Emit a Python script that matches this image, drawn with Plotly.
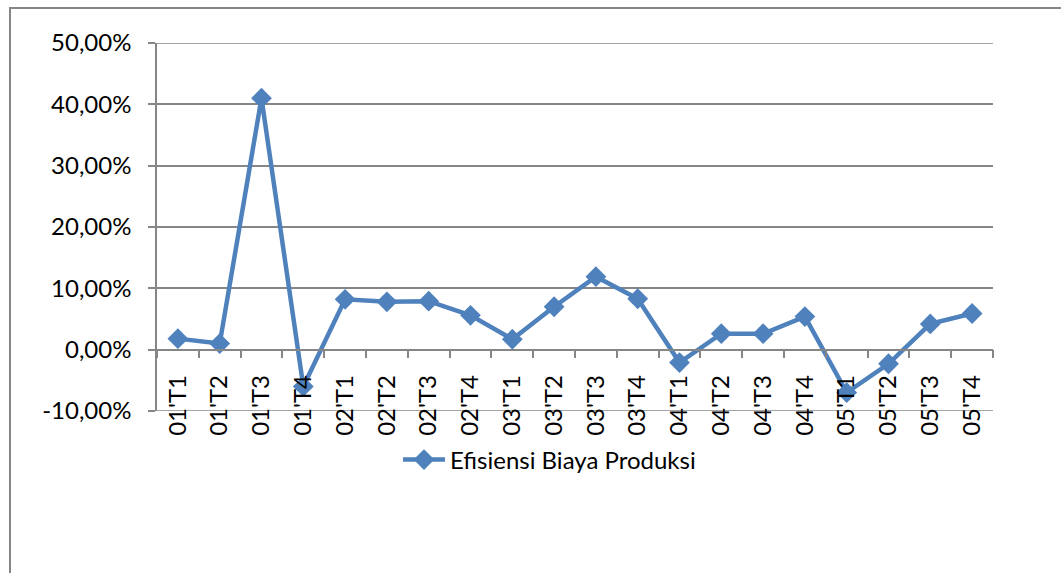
import plotly.graph_objects as go

categories = ["01'T1", "01'T2", "01'T3", "01'T4",
              "02'T1", "02'T2", "02'T3", "02'T4",
              "03'T1", "03'T2", "03'T3", "03'T4",
              "04'T1", "04'T2", "04'T3", "04'T4",
              "05'T1", "05'T2", "05'T3", "05'T4"]
efisiensi = [0.018, 0.010, 0.410, -0.060,
             0.082, 0.078, 0.079, 0.056,
             0.017, 0.070, 0.119, 0.083,
             -0.021, 0.026, 0.026, 0.054,
             -0.070, -0.023, 0.042, 0.059]
series_name = "Efisiensi Biaya Produksi"
y_tickvals = [-0.1, 0.0, 0.1, 0.2, 0.3, 0.4, 0.5]
y_ticktext = ["-10,00%", "0,00%", "10,00%", "20,00%", "30,00%", "40,00%", "50,00%"]
y_min, y_max = -0.1, 0.5

BLUE = "#4F81BD"
GRID = "#868686"
FONT = "Lato"
FS = 24

fig = go.Figure()
fig.add_trace(go.Scatter(
    x=categories, y=efisiensi, name=series_name,
    mode="lines+markers",
    line=dict(color=BLUE, width=4.5),
    marker=dict(symbol="diamond", size=16, color=BLUE),
))

L, R, T, B = 157, 68, 43, 162
W, H = 1061, 573
pw = W - L - R
ph = H - T - B

def px(x):
    return (x - L) / pw

def py(y):
    return (H - B - y) / ph

shapes = [dict(type="rect", xref="paper", yref="paper",
               x0=px(10), x1=px(1075), y0=py(590), y1=py(8),
               line=dict(color=GRID, width=2), fillcolor="rgba(0,0,0,0)",
               layer="below")]
for yv in (y_min, y_max):
    shapes.append(dict(type="line", xref="paper", yref="y",
                       x0=0, x1=1, y0=yv, y1=yv,
                       line=dict(color=GRID, width=1.5), layer="below"))

fig.update_layout(
    width=W, height=H,
    margin=dict(l=L, r=R, t=T, b=B),
    paper_bgcolor="white", plot_bgcolor="white",
    font=dict(family=FONT, size=FS, color="#000000"),
    showlegend=True,
    legend=dict(x=px(398), y=py(460), xanchor="left", yanchor="middle",
                itemwidth=42,
                font=dict(family=FONT, size=FS, color="#000000"),
                bgcolor="rgba(0,0,0,0)"),
    xaxis=dict(
        type="category",
        range=[-0.5, len(categories) - 0.5],
        anchor="free", position=(0 - y_min) / (y_max - y_min),
        showline=True, linecolor=GRID, linewidth=1.5,
        ticks="outside", ticklen=8, tickcolor=GRID, tickwidth=1.5,
        tickson="boundaries",
        tickangle=-90,
        ticklabelstandoff=15,
        showgrid=False,
        tickfont=dict(family=FONT, size=FS, color="#000000"),
    ),
    yaxis=dict(
        range=[y_min, y_max],
        tickmode="array", tickvals=y_tickvals, ticktext=y_ticktext,
        showline=True, linecolor=GRID, linewidth=1.5,
        ticks="outside", ticklen=7, tickcolor=GRID, tickwidth=1.5,
        showgrid=True, gridcolor=GRID, gridwidth=1.5,
        zeroline=False,
        ticklabelstandoff=12,
        tickfont=dict(family=FONT, size=FS, color="#000000"),
    ),
    shapes=shapes,
)

fig.write_html("out.html")
